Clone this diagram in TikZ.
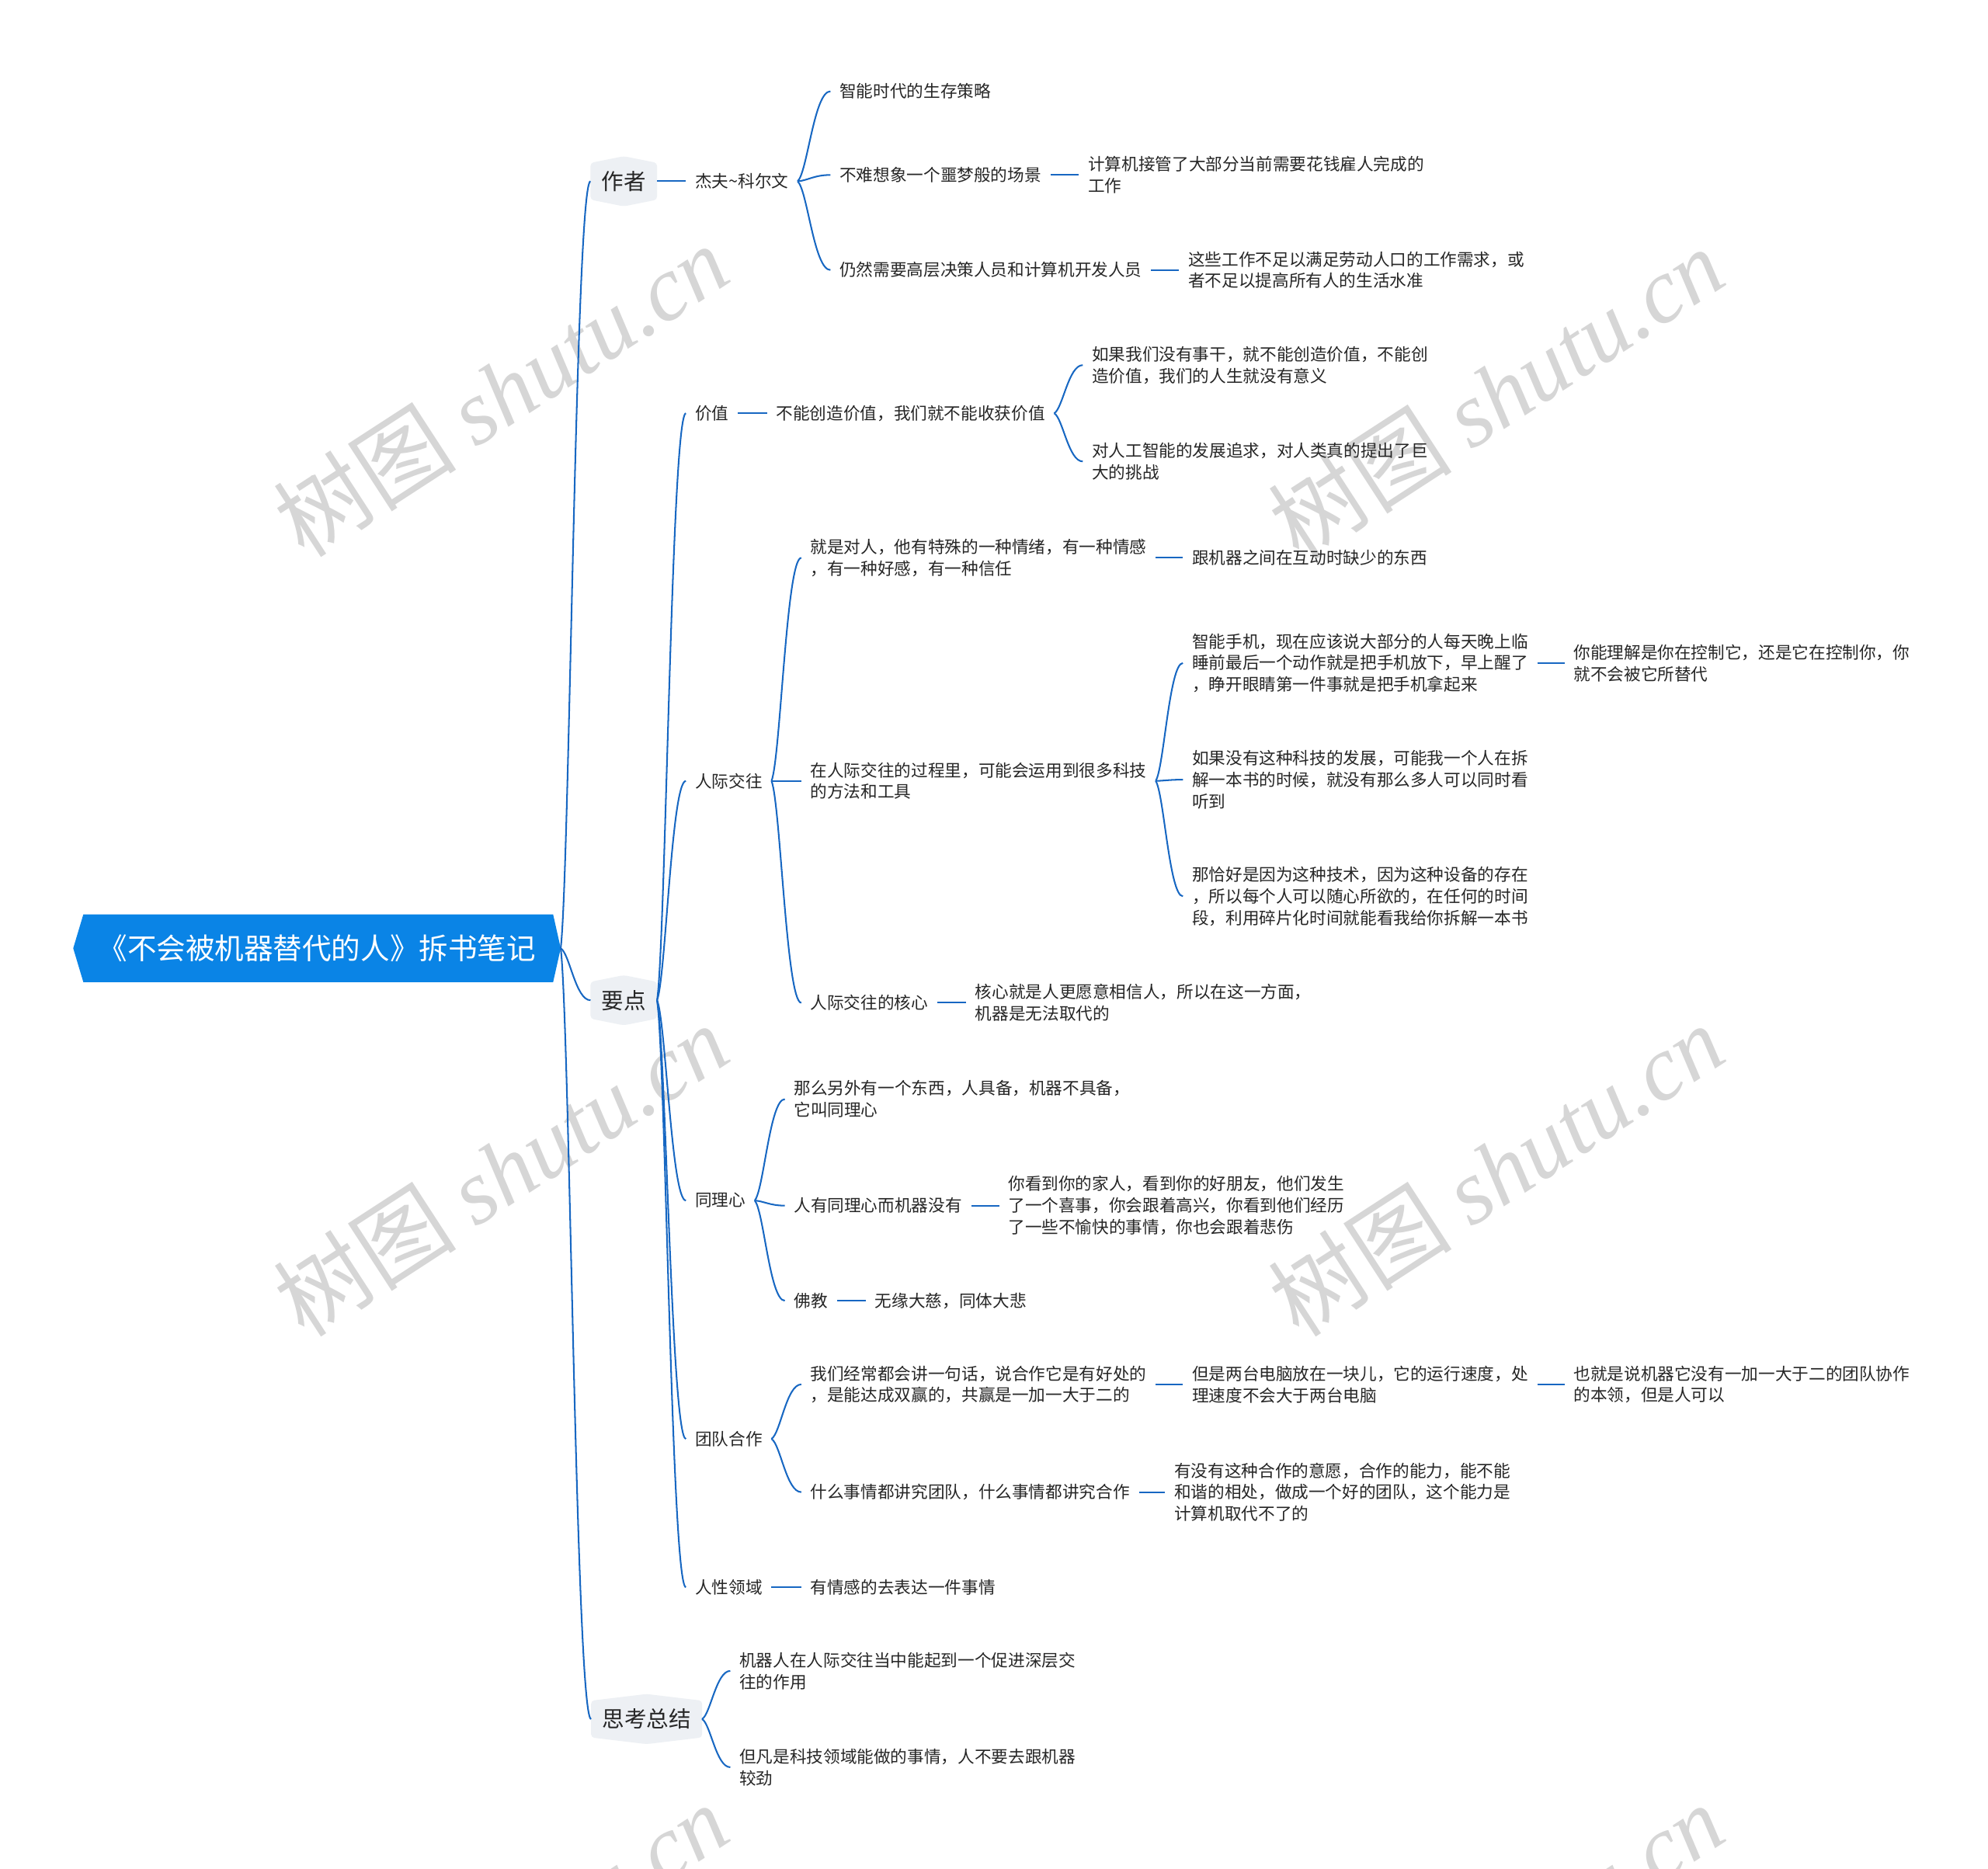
\documentclass[tikz,border=0pt]{standalone}
\usepackage{fontspec}
\newfontfamily\cjk{Noto Sans CJK SC}
\newfontfamily\wmserif{Liberation Serif}
\usetikzlibrary{calc,backgrounds}
\definecolor{rootc}{HTML}{0A84E6}
\definecolor{linec}{HTML}{1767C2}
\definecolor{textc}{HTML}{262626}
\definecolor{hexc}{HTML}{EDF0F4}
\definecolor{wmc}{HTML}{D6D6D6}
\tikzset{
  txt/.style={anchor=west, inner xsep=5.6pt, inner ysep=1pt, align=left, text=textc,
    font=\cjk\fontsize{10.6}{13.6}\selectfont},
  lvone/.style={anchor=center, inner xsep=6.8pt, inner ysep=0pt, minimum height=31.2pt, text=textc,
    font=\cjk\fontsize{14}{16}\selectfont},
  rootnode/.style={anchor=center, inner sep=0pt, minimum width=307.2pt, minimum height=42.4pt,
    text=white, font=\cjk\fontsize{18.4}{20}\selectfont},
  conn/.style={draw=linec, line width=1pt},
  wm/.style={text=wmc, rotate=33, inner sep=0pt, font=\fontsize{58}{62}\selectfont},
}
\newcommand\curv[2]{\draw[conn] let \p1=(#1.east), \p2=(#2.west) in
  (\p1) .. controls ({\x1+0.3*(\x2-\x1)},{\y1+0.1*(\y2-\y1)}) and ({\x1+0.5*(\x2-\x1)},{\y2}) .. (\p2);}
\newcommand\strt[2]{\draw[conn] (#1.east) -- (#2.west);}
\newcommand\hexbg[1]{\fill[hexc, rounded corners=2pt] ($(#1.west)+(0,-14.5)$) -- (#1.north) -- ($(#1.east)+(0,-14.5)$) -- ($(#1.east)+(0,14.5)$) -- (#1.south) -- ($(#1.west)+(0,14.5)$) -- cycle;}
\begin{document}
\begin{tikzpicture}[x=0.8pt,y=-0.8pt]
\useasboundingbox (0,0) rectangle (1568,1474);
\clip (0,0) rectangle (1568,1474);

% root
\node[rootnode] (root) at (250,748) {《不会被机器替代的人》拆书笔记};

% level 1
\node[lvone] (zz) at (492,143) {作者};
\node[lvone] (yd) at (492,789) {要点};
\node[lvone] (sk) at (510,1356) {思考总结};

% 作者 branch
\node[txt] (jf) at (541,143) {杰夫\textasciitilde 科尔文};
\node[txt] (a1) at (655,72) {智能时代的生存策略};
\node[txt] (a2) at (655,138) {不难想象一个噩梦般的场景};
\node[txt] (a2a) at (851,138) {计算机接管了大部分当前需要花钱雇人完成的\\工作};
\node[txt] (a3) at (655,213) {仍然需要高层决策人员和计算机开发人员};
\node[txt] (a3a) at (930,213) {这些工作不足以满足劳动人口的工作需求，或\\者不足以提高所有人的生活水准};

% 要点 branch
\node[txt] (v) at (541,326) {价值};
\node[txt] (v1) at (605,326) {不能创造价值，我们就不能收获价值};
\node[txt] (v1a) at (854,288) {如果我们没有事干，就不能创造价值，不能创\\造价值，我们的人生就没有意义};
\node[txt] (v1b) at (854,364) {对人工智能的发展追求，对人类真的提出了巨\\大的挑战};

\node[txt] (r) at (541,616) {人际交往};
\node[txt] (r1) at (632,440) {就是对人，他有特殊的一种情绪，有一种情感\\，有一种好感，有一种信任};
\node[txt] (r1a) at (933,440) {跟机器之间在互动时缺少的东西};
\node[txt] (r2) at (632,616) {在人际交往的过程里，可能会运用到很多科技\\的方法和工具};
\node[txt] (r2a) at (933,523) {智能手机，现在应该说大部分的人每天晚上临\\睡前最后一个动作就是把手机放下，早上醒了\\，睁开眼睛第一件事就是把手机拿起来};
\node[txt] (r2a1) at (1234,523) {你能理解是你在控制它，还是它在控制你，你\\就不会被它所替代};
\node[txt] (r2b) at (933,615) {如果没有这种科技的发展，可能我一个人在拆\\解一本书的时候，就没有那么多人可以同时看\\听到};
\node[txt] (r2c) at (933,707) {那恰好是因为这种技术，因为这种设备的存在\\，所以每个人可以随心所欲的，在任何的时间\\段，利用碎片化时间就能看我给你拆解一本书};
\node[txt] (r3) at (632,791) {人际交往的核心};
\node[txt] (r3a) at (762,791) {核心就是人更愿意相信人，所以在这一方面，\\机器是无法取代的};

\node[txt] (t) at (541,947) {同理心};
\node[txt] (t1) at (619,867) {那么另外有一个东西，人具备，机器不具备，\\它叫同理心};
\node[txt] (t2) at (619,951) {人有同理心而机器没有};
\node[txt] (t2a) at (788,951) {你看到你的家人，看到你的好朋友，他们发生\\了一个喜事，你会跟着高兴，你看到他们经历\\了一些不愉快的事情，你也会跟着悲伤};
\node[txt] (t3) at (619,1026) {佛教};
\node[txt] (t3a) at (683,1026) {无缘大慈，同体大悲};

\node[txt] (g) at (541,1135) {团队合作};
\node[txt] (g1) at (632,1092) {我们经常都会讲一句话，说合作它是有好处的\\，是能达成双赢的，共赢是一加一大于二的};
\node[txt] (g1a) at (933,1092) {但是两台电脑放在一块儿，它的运行速度，处\\理速度不会大于两台电脑};
\node[txt] (g1b) at (1234,1092) {也就是说机器它没有一加一大于二的团队协作\\的本领，但是人可以};
\node[txt] (g2) at (632,1177) {什么事情都讲究团队，什么事情都讲究合作};
\node[txt] (g2a) at (919,1177) {有没有这种合作的意愿，合作的能力，能不能\\和谐的相处，做成一个好的团队，这个能力是\\计算机取代不了的};

\node[txt] (h) at (541,1252) {人性领域};
\node[txt] (h1) at (632,1252) {有情感的去表达一件事情};

% 思考总结 branch
\node[txt] (s1) at (576,1318) {机器人在人际交往当中能起到一个促进深层交\\往的作用};
\node[txt] (s2) at (576,1394) {但凡是科技领域能做的事情，人不要去跟机器\\较劲};

% background: white page, watermarks and shapes
\begin{scope}[on background layer]
  \fill[white] (0,0) rectangle (1568,1474);
  \node[wm] (wm1) at (395,308) {\cjk 树图\ \wmserif\itshape shutu.cn};
  \node[wm] (wm2) at (1180,310) {\cjk 树图\ \wmserif\itshape shutu.cn};
  \node[wm] (wm3) at (395,923) {\cjk 树图\ \wmserif\itshape shutu.cn};
  \node[wm] (wm4) at (1180,923) {\cjk 树图\ \wmserif\itshape shutu.cn};
  \node[wm] (wm5) at (395,1538) {\cjk 树图\ \wmserif\itshape shutu.cn};
  \node[wm] (wm6) at (1180,1538) {\cjk 树图\ \wmserif\itshape shutu.cn};
  \fill[rootc] (root.west) -- ($(root.north west)+(8,0)$) -- ($(root.north east)+(-6,0)$) -- (root.east)
     -- ($(root.south east)+(-6,0)$) -- ($(root.south west)+(8,0)$) -- cycle;
  \hexbg{zz}
  \hexbg{yd}
  \hexbg{sk}
\end{scope}

% connectors
\curv{root}{zz}
\curv{root}{yd}
\curv{root}{sk}

\strt{zz}{jf}
\curv{jf}{a1}
\curv{jf}{a2}
\curv{jf}{a3}
\strt{a2}{a2a}
\strt{a3}{a3a}

\curv{yd}{v}
\curv{yd}{r}
\curv{yd}{t}
\curv{yd}{g}
\curv{yd}{h}

\strt{v}{v1}
\curv{v1}{v1a}
\curv{v1}{v1b}

\curv{r}{r1}
\curv{r}{r2}
\curv{r}{r3}
\strt{r1}{r1a}
\curv{r2}{r2a}
\curv{r2}{r2b}
\curv{r2}{r2c}
\strt{r2a}{r2a1}
\strt{r3}{r3a}

\curv{t}{t1}
\curv{t}{t2}
\curv{t}{t3}
\strt{t2}{t2a}
\strt{t3}{t3a}

\curv{g}{g1}
\curv{g}{g2}
\strt{g1}{g1a}
\strt{g1a}{g1b}
\strt{g2}{g2a}

\strt{h}{h1}

\curv{sk}{s1}
\curv{sk}{s2}
\end{tikzpicture}
\end{document}
